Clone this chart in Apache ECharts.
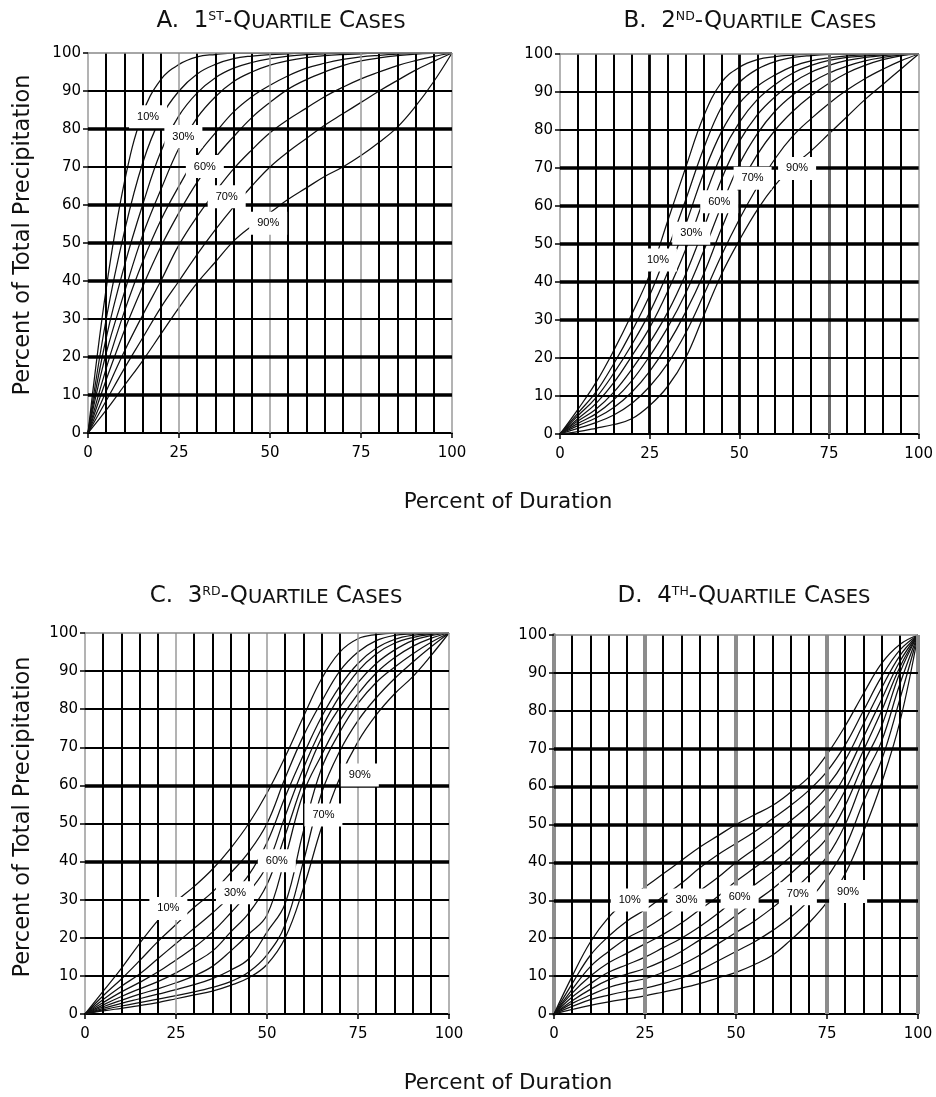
<!DOCTYPE html>
<html><head><meta charset="utf-8">
<script src="https://cdn.jsdelivr.net/npm/echarts@6/dist/echarts.min.js"></script>
<style>html,body{margin:0;padding:0;background:#fff}#c{width:936px;height:1097px}</style>
</head><body><div id="c"></div>
<script>
// x positions (percent of duration) at which the curves are read
const durationSteps = [0,5,10,15,20,25,30,35,40,45,50,55,60,65,70,75,80,85,90,95,100];
const curveNames = ['10%','20%','30%','40%','50%','60%','70%','80%','90%'];

// A. 1st-quartile cases
const a10 = [0,38,66,84,93,97,99,99.6,100,100,100,100,100,100,100,100,100,100,100,100,100];
const a20 = [0,30,53,71,83,90,94.5,97,98.5,99.2,99.6,99.8,100,100,100,100,100,100,100,100,100];
const a30 = [0,25,44,60,74,83.5,89.5,93.5,96,97.5,98.5,99.2,99.6,99.8,100,100,100,100,100,100,100];
const a40 = [0,21,37,52,64,75,83,88.5,92.5,95,96.8,98,98.8,99.3,99.6,99.8,100,100,100,100,100];
const a50 = [0,17,32,45,56,65,73,79,84.5,88.5,91.5,94,96,97.3,98.3,99,99.4,99.7,99.9,100,100];
const a60 = [0,14,27,38.5,49,58,66,72.5,78,83,87,90.5,93,95,96.7,97.9,98.7,99.3,99.7,99.9,100];
const a70 = [0,11,21.5,31,40,49.5,57,63.5,69.5,74.5,79,82.5,85.5,88.5,91,93.2,95,96.7,98,99.1,100];
const a80 = [0,8.5,17,25,33,40,47,53.5,59.5,65,70,74,77.5,81,84,87,90,92.8,95.5,97.8,100];
const a90 = [0,6,12.5,19,26,33,39.5,45,50.5,54.5,58,61.5,64.5,67.5,70,73,76.5,80.5,86,92.5,100];

// B. 2nd-quartile cases
const b10 = [0,6.5,13.5,22,31.5,42,56,70,83.5,92.5,96.5,98.5,99.3,99.7,100,100,100,100,100,100,100];
const b20 = [0,5.5,11,18.5,27,36.5,48.5,61.5,75,86,92.5,96,98,99.1,99.6,99.9,100,100,100,100,100];
const b30 = [0,4.8,9.5,16,23.5,32,42.5,55,68.5,79.5,87,91.5,94.5,96.8,98.2,99,99.5,99.8,100,100,100];
const b40 = [0,4,8,13.5,20.5,28,37.5,48.5,61.5,73.5,82,88,92,95,97,98.3,99.1,99.5,99.8,100,100];
const b50 = [0,3.4,6.5,11,17,24,32,42,54,67,77,84,88.8,92.5,95.2,97,98.3,99.1,99.6,99.9,100];
const b60 = [0,2.8,5.3,9,14,20.5,28,37,48,60,71,79,85,89.3,92.5,95,96.8,98.2,99.1,99.7,100];
const b70 = [0,2.2,4.2,7,11,16.5,23.5,32,42,54,65,73.5,80,85,89,92.3,95,97,98.5,99.5,100];
const b80 = [0,1.5,3,5,8,12.5,18.5,26.5,36.5,47,56.5,65,72.5,78.5,83,87,90.5,93.5,96,98.2,100];
const b90 = [0,0.6,1.5,2.5,4,7.5,12.5,20,31,42,51,59,65.5,70.5,74.5,79,83.5,88,92,96,100];

// C. 3rd-quartile cases
const c10 = [0,6,12,18.5,24.5,29.5,33.5,38,43.5,50,58,67.5,78,88,95,98.5,99.6,100,100,100,100];
const c20 = [0,4.8,9.2,14,19,23.5,28,32,37,42.5,50,62,73,82,90,95,98,99.4,99.8,100,100];
const c30 = [0,3.8,7.3,10.5,14.5,18.5,22.5,26.5,31,36.5,45,57,68,78,86,92,96,98.3,99.4,99.8,100];
const c40 = [0,3,5.8,8.3,11,14.2,17.5,21.5,26.5,32,39,52,64.5,75,83.5,90,94.5,97.3,98.8,99.6,100];
const c50 = [0,2.4,4.6,6.6,8.5,10.8,13.5,16.5,21.5,26.5,34,47,61,72.5,80.5,87,92,95.5,98,99.3,100];
const c60 = [0,1.9,3.6,5.2,6.6,8.2,10,12.5,16.5,21,26,41,58,68,77,84,89.5,93.5,96.5,98.6,100];
const c70 = [0,1.5,2.8,4,5.2,6.4,7.7,9.3,11.5,14.5,21.5,29,48,64.5,74,81.5,87,91,94.5,97.5,100];
const c80 = [0,1.1,2.1,3,3.9,4.8,5.8,7,8.5,11,15.5,23.5,40,58,69,77,83,88,92.3,96.3,100];
const c90 = [0,0.8,1.5,2.2,3,4,5,6,7.5,9.5,13,20,33,49,62,71.5,78.5,84,88.5,94,100];

// D. 4th-quartile cases
const d10 = [0,10,19,25.5,30,33.5,37,40.5,44,47,50,52.5,55,58.5,62.5,68.5,76,84.5,92.5,97.5,100];
const d20 = [0,8,15.5,20.5,24.5,27.5,31,34.5,38.5,42,45,48,51.5,55,59,64,71,80,89,96,100];
const d30 = [0,6.5,12.5,16.5,20,22.5,25.5,29,32.5,36,40,43.5,47,51,55,60,67,76.5,86,94.5,100];
const d40 = [0,5.5,10,13.5,16,18.5,21,24,27.5,31,35,38.5,42,46,50.5,55.5,63,73,83,93,100];
const d50 = [0,4.5,8,11,13,15,17.5,20,23,26.5,30.5,34,37.5,41.5,46,51,59,69.5,80,91.5,100];
const d60 = [0,3.5,6.5,9,10.5,12,14,16.5,19.5,22.5,26,29.5,33,37,41.5,46.5,55,66,76,90,100];
const d70 = [0,2.8,5,7,8.3,9.3,11,13,15.5,18.5,21.5,24.5,28,32,36.5,41.5,50,62,72,87,100];
const d80 = [0,2,3.8,5,6,6.8,8,9.5,11.5,14,16.5,19,22,25.5,30,36,44,56,67,83,100];
const d90 = [0,1.2,2.3,3.2,4,4.8,5.8,6.8,8,9.5,11,13,15.5,19.5,24,29.5,37,48,61,77,100];

// curve labels [x, y, text]
const labelsA = [[16.5,83.2,'10%'],[26.2,78,'30%'],[32.1,70.1,'60%'],[38.1,62.2,'70%'],[49.5,55.2,'90%']];
const labelsB = [[27.3,45.8,'10%'],[36.6,52.8,'30%'],[44.4,61.1,'60%'],[53.7,67.3,'70%'],[66.1,69.9,'90%']];
const labelsC = [[22.9,27.7,'10%'],[41.2,31.8,'30%'],[52.7,40.2,'60%'],[65.5,52.2,'70%'],[75.5,62.7,'90%']];
const labelsD = [[20.8,30.1,'10%'],[36.4,30.1,'30%'],[51,30.9,'60%'],[67,31.7,'70%'],[80.8,32.3,'90%']];

// grid-line values and tick labels
const vLineValues = [5,10,15,20,25,30,35,40,45,50,55,60,65,70,75,80,85,90,95,100];
const hLineValues = [10,20,30,40,50,60,70,80,90,100];
const xTickLabels = [0,25,50,75,100];
const yTickLabels = [0,10,20,30,40,50,60,70,80,90,100];

const titleParts = [['A.','1','ST'],['B.','2','ND'],['C.','3','RD'],['D.','4','TH']];
const yTitle = 'Percent of Total Precipitation';
const xTitle = 'Percent of Duration';

const panels = [
  {grid:{left:88,top:53,width:364,height:380}, curves:[a10,a20,a30,a40,a50,a60,a70,a80,a90], labels:labelsA,
   thickH:[10,20,40,50,60,80], special:{25:['#9a9a9a',1.5],50:['#9a9a9a',1.5],75:['#9a9a9a',1.5],100:['#9a9a9a',1.5]}, yAxisLine:['#9a9a9a',1.5], title:[281,22]},
  {grid:{left:560,top:54,width:360,height:380}, curves:[b10,b20,b30,b40,b50,b60,b70,b80,b90], labels:labelsB,
   thickH:[30,40,50,60,70], special:{25:['#000',2.8],50:['#000',2.8],75:['#6a6a6a',3],100:['#9a9a9a',1.5]}, yAxisLine:['#9a9a9a',1.5], title:[750,22]},
  {grid:{left:85,top:633,width:364,height:381}, curves:[c10,c20,c30,c40,c50,c60,c70,c80,c90], labels:labelsC,
   thickH:[40,60], special:{25:['#9a9a9a',1.5],50:['#9a9a9a',1.5],75:['#9a9a9a',1.5],100:['#9a9a9a',1.5]}, yAxisLine:['#9a9a9a',1.5], title:[276,597]},
  {grid:{left:554,top:635,width:364,height:379}, curves:[d10,d20,d30,d40,d50,d60,d70,d80,d90], labels:labelsD,
   thickH:[30,40,50,60,70], special:{25:['#8c8c8c',4],50:['#8c8c8c',4],75:['#8c8c8c',4],100:['#8c8c8c',4]}, yAxisLine:['#8c8c8c',4], title:[744,597]}
];

const FONT = 'DejaVu Sans';
const grids = [], xAxes = [], yAxes = [], series = [], titles = [];

panels.forEach((p, i) => {
  grids.push(p.grid);
  xAxes.push({type:'value', gridIndex:i, min:0, max:100, interval:25,
    axisLine:{show:true, lineStyle:{color:'#000', width:2}},
    axisTick:{show:true, length:5, lineStyle:{color:'#000', width:1.5}},
    axisLabel:{fontFamily:FONT, fontSize:15, color:'#000', margin:13,
      formatter: v => xTickLabels.includes(v) ? String(v) : ''},
    splitLine:{show:false}});
  yAxes.push({type:'value', gridIndex:i, min:0, max:100, interval:10,
    axisLine:{show:true, lineStyle:{color:p.yAxisLine[0], width:p.yAxisLine[1]}},
    axisTick:{show:true, length:5, lineStyle:{color:'#000', width:1.5}},
    axisLabel:{fontFamily:FONT, fontSize:15, color:'#000', margin:7,
      formatter: v => yTickLabels.includes(v) ? String(v) : ''},
    splitLine:{show:false}});

  const ml = [];
  vLineValues.forEach(v => {
    const s = p.special[v] || ['#000', 2];
    ml.push({xAxis:v, lineStyle:{color:s[0], width:s[1], type:'solid'}});
  });
  hLineValues.forEach(v => {
    let s;
    if (v === 100) s = ['#888', 1.5];
    else if (p.thickH.includes(v)) s = ['#000', 3.5];
    else s = ['#000', 2];
    ml.push({yAxis:v, lineStyle:{color:s[0], width:s[1], type:'solid'}});
  });
  series.push({type:'line', xAxisIndex:i, yAxisIndex:i, data:[[0,0]], showSymbol:false, symbol:'none',
    lineStyle:{opacity:0}, silent:true, z:1,
    markLine:{silent:true, symbol:['none','none'], label:{show:false}, animation:false,
      lineStyle:{type:'solid'}, data:ml}});

  p.curves.forEach((arr, k) => {
    series.push({type:'line', name:curveNames[k], xAxisIndex:i, yAxisIndex:i,
      data: durationSteps.map((x, j) => [x, arr[j]]),
      smooth:0.4, symbol:'none', showSymbol:false, silent:true, z:3,
      lineStyle:{color:'#111', width:1.25}});
  });

  series.push({type:'scatter', xAxisIndex:i, yAxisIndex:i, symbolSize:1, silent:true, z:10,
    itemStyle:{color:'rgba(0,0,0,0)', opacity:1},
    data: p.labels.map(l => ({value:[l[0], l[1]], label:{formatter:l[2]}})),
    label:{show:true, position:'inside', backgroundColor:'#fff', padding:[6,8],
      fontFamily:'Liberation Sans', fontSize:11, color:'#000'}});

  const t = titleParts[i];
  titles.push({left:p.title[0], top:p.title[1]-12, textAlign:'center', padding:0,
    text:`{b|${t[0]}  ${t[1]}}{s|${t[2]}}{b|-Q}{c|UARTILE}{b| C}{c|ASES}`,
    textStyle:{fontWeight:'normal', rich:{
      b:{fontFamily:FONT, fontSize:23, lineHeight:23, fontWeight:'normal', color:'#111', verticalAlign:'bottom'},
      c:{fontFamily:FONT, fontSize:19.5, lineHeight:19.5, fontWeight:'normal', color:'#111', verticalAlign:'bottom'},
      s:{fontFamily:FONT, fontSize:12.5, lineHeight:12.5, fontWeight:'normal', color:'#111', verticalAlign:'top'}
    }}});
});

const graphics = [
  {type:'text', x:23, y:235, rotation:Math.PI/2, silent:true,
   style:{text:yTitle, fontFamily:FONT, fontSize:22.5, fill:'#111', align:'center', verticalAlign:'middle'}},
  {type:'text', x:23, y:817, rotation:Math.PI/2, silent:true,
   style:{text:yTitle, fontFamily:FONT, fontSize:22.5, fill:'#111', align:'center', verticalAlign:'middle'}},
  {type:'text', x:508, y:502, silent:true,
   style:{text:xTitle, fontFamily:FONT, fontSize:21.5, fill:'#111', align:'center', verticalAlign:'middle'}},
  {type:'text', x:508, y:1083, silent:true,
   style:{text:xTitle, fontFamily:FONT, fontSize:21.5, fill:'#111', align:'center', verticalAlign:'middle'}}
];

const chart = echarts.init(document.getElementById('c'), null, {renderer:'canvas'});
chart.setOption({
  animation:false,
  backgroundColor:'#fff',
  title:titles,
  grid:grids,
  xAxis:xAxes,
  yAxis:yAxes,
  series:series,
  graphic:graphics
});
</script>
</body></html>
